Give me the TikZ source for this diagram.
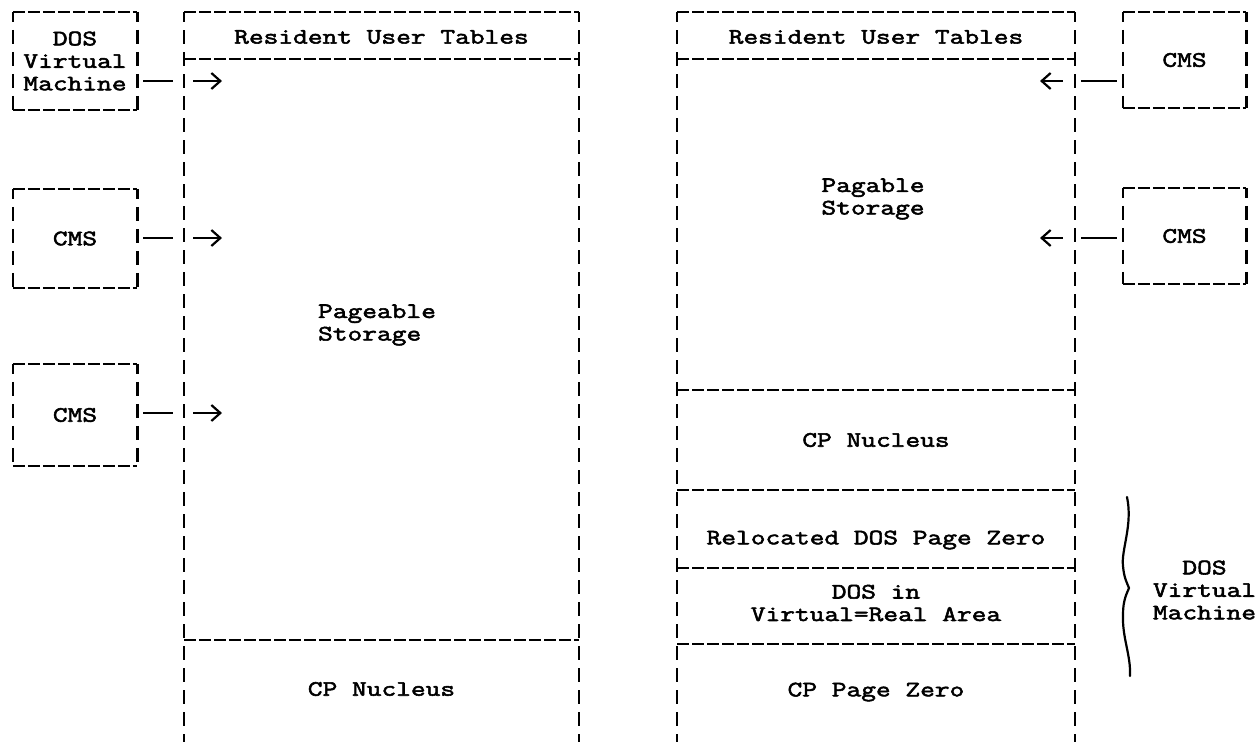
\documentclass[tikz,border=0pt]{standalone}
\usepackage{fontspec}
\newfontfamily\tw[FakeStretch=1.3,FakeBold=2.5]{Latin Modern Mono}
\usetikzlibrary{arrows.meta}
\begin{document}
\begin{tikzpicture}[x=1pt,y=-1pt,
  txt/.style={font=\tw\fontsize{22}{22.5}\selectfont, inner sep=0pt},
  vl/.style={line width=2.6pt, dash pattern=on 14pt off 8pt, dash phase=4pt},
  hl/.style={line width=2.2pt, dash pattern=on 12pt off 3pt},
  smallbox/.style={txt, align=center, draw=none, minimum width=124pt},
  conn/.style={line width=2.2pt, dash pattern=on 0pt off 6pt on 30pt off 20pt on 100pt, -{Straight Barb[length=9pt,width=16pt,line width=2.2pt]}},
  connr/.style={line width=2.2pt, dash pattern=on 0pt off 6pt on 36pt off 18pt on 100pt, -{Straight Barb[length=9pt,width=16pt,line width=2.2pt]}},
  bracestyle/.style={line width=2.2pt, line cap=round}
]
\useasboundingbox (0,0) rectangle (1256,742);
% ---------- small boxes left ----------
\node[smallbox, minimum height=98pt] (dos) at (75,61) {DOS\\Virtual\\Machine};
\node[smallbox, minimum height=99pt] (cms1) at (75,238.5) {CMS};
\node[smallbox, minimum height=102pt] (cms2) at (75,415) {CMS};
% ---------- small boxes right ----------
\node[smallbox, minimum width=123pt, minimum height=96pt] (cms3) at (1184.5,60) {CMS};
\node[smallbox, minimum width=123pt, minimum height=96pt] (cms4) at (1184.5,236) {CMS};
\foreach \b in {dos,cms1,cms2,cms3,cms4}{
  \draw[hl] (\b.north west) -- (\b.north east);
  \draw[hl] (\b.south west) -- (\b.south east);
  \draw[vl] (\b.north west) -- (\b.south west);
  \draw[vl] (\b.north east) -- (\b.south east);
}
% ---------- left big box ----------
\coordinate (Ltl) at (184,12);
\coordinate (Ltr) at (579,12);
\coordinate (Lbl) at (184,742);
\coordinate (Lbr) at (579,742);
\draw[hl] (Ltl) -- (Ltr);
\draw[vl] (Ltl) -- (Lbl);
\draw[vl] (Ltr) -- (Lbr);
\draw[hl] (184,59) -- (579,59);
\draw[hl] (184,640) -- (579,640);
\node[txt] (resL) at (381.5,37) {Resident User Tables};
\node[txt, align=left] (pgL) at (377,325) {Pageable\\Storage};
\node[txt] (cpnL) at (381.5,689) {CP Nucleus};
% ---------- right big box ----------
\coordinate (Rtl) at (677,12);
\coordinate (Rtr) at (1075,12);
\coordinate (Rbl) at (677,742);
\coordinate (Rbr) at (1075,742);
\draw[hl] (Rtl) -- (Rtr);
\draw[vl] (Rtl) -- (Rbl);
\draw[vl] (Rtr) -- (Rbr);
\foreach \yy in {59,390,490,568,644}{
  \draw[hl] (677,\yy) -- (1075,\yy);
}
\node[txt] (resR) at (876,37) {Resident User Tables};
\node[txt, align=left] (pgR) at (873,199) {Pagable\\Storage};
\node[txt] (cpnR) at (876,440) {CP Nucleus};
\node[txt] (reloc) at (876,540) {Relocated DOS Page Zero};
\node[txt, align=center] (dosin) at (876,603) {DOS in\\Virtual=Real Area};
\node[txt] (cppz) at (876,692) {CP Page Zero};
% ---------- connectors ----------
\coordinate (a1) at (222,81);
\coordinate (a2) at (222,238);
\coordinate (a3) at (222,413);
\draw[conn] (dos.east |- a1) -- (a1);
\draw[conn] (cms1.east |- a2) -- (a2);
\draw[conn] (cms2.east |- a3) -- (a3);
\coordinate (a4) at (1040,81);
\coordinate (a5) at (1040,238);
\draw[connr] (cms3.west |- a4) -- (a4);
\draw[connr] (cms4.west |- a5) -- (a5);
% ---------- brace ----------
\draw[bracestyle] (1127,497) .. controls (1133,525) and (1121,550) .. (1123,566)
  .. controls (1124,578) and (1127,583) .. (1129,588)
  .. controls (1127,593) and (1123,600) .. (1123,614)
  .. controls (1122,638) and (1131,655) .. (1130,676);
\node[txt, align=center] (dosvm) at (1204.5,590) {DOS\\Virtual\\Machine};
\end{tikzpicture}
\end{document}
